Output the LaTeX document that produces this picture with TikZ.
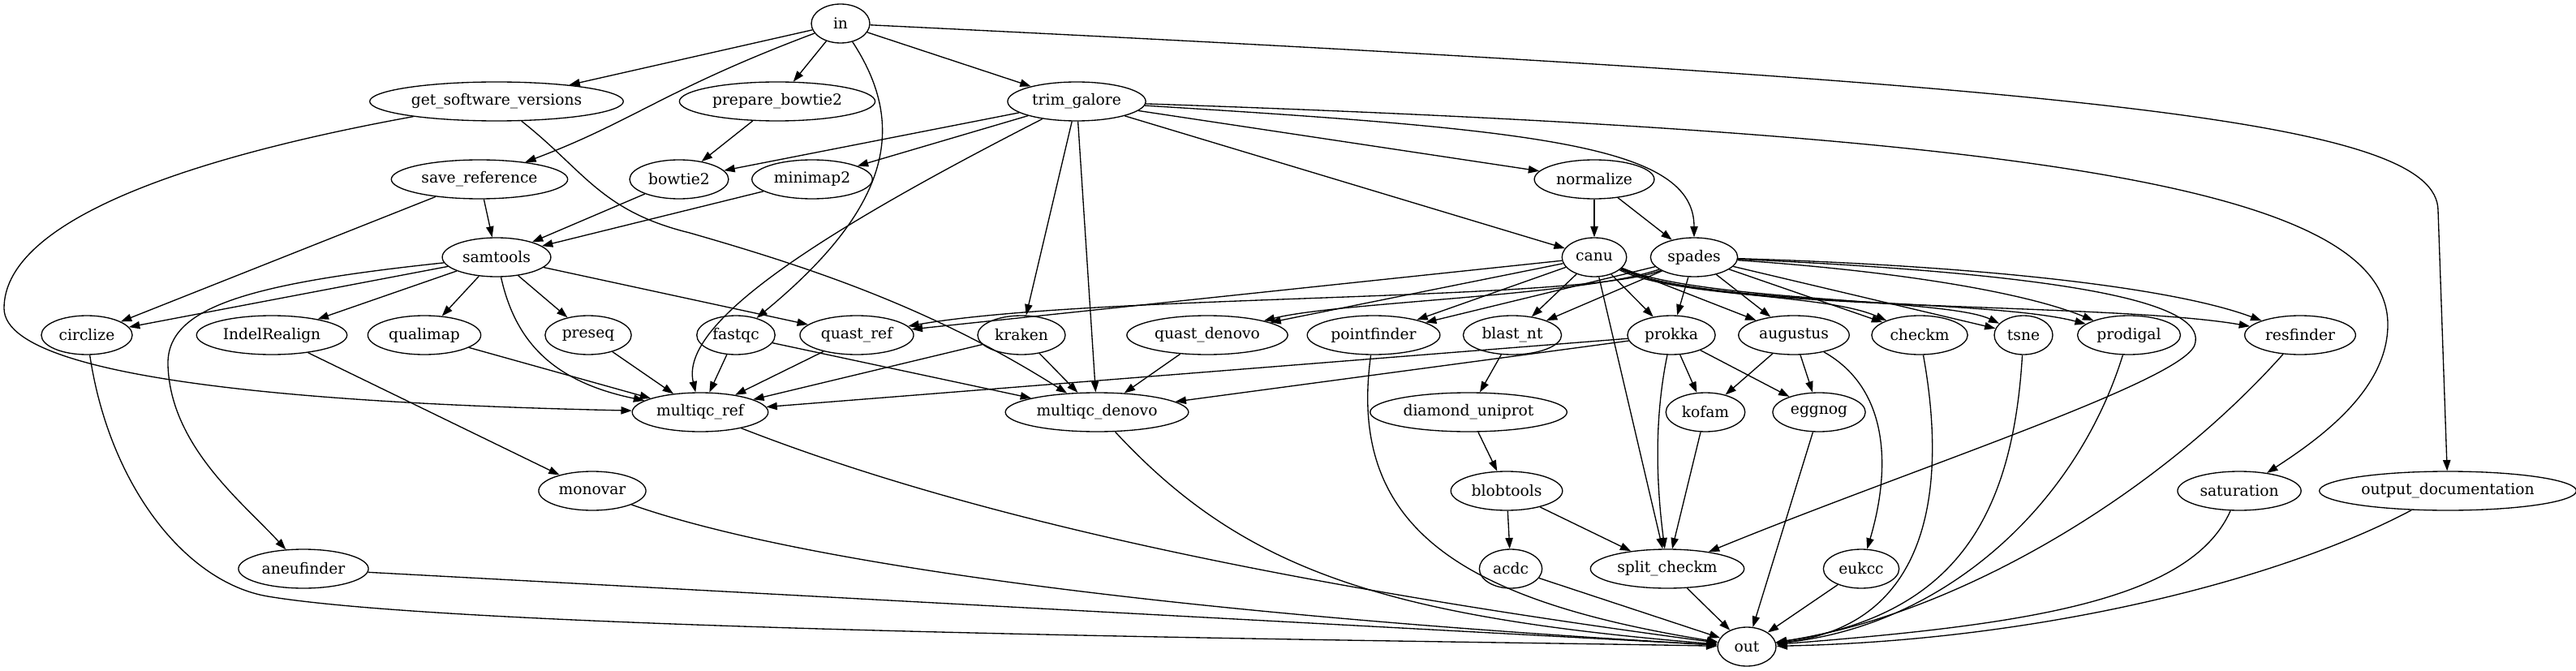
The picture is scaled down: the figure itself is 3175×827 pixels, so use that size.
\documentclass[tikz,border=0pt]{standalone}
\usepackage{fontspec}
\setmainfont{DejaVu Serif}
\usetikzlibrary{arrows.meta,shapes.geometric}

\begin{document}
\begin{tikzpicture}[x=0.75pt, y=-0.75pt,
    proc/.style={draw, ellipse, line width=1pt, minimum width=54pt, minimum height=36pt, inner xsep=4pt, inner ysep=1pt, font=\fontsize{14pt}{16pt}\selectfont},
    arr/.style={-{Triangle[length=10pt, width=7pt]}, line width=1pt}
]
\useasboundingbox (0,0) rectangle (3175,827);

\node[proc] (inp) at (1036,29) {in};
\node[proc] (gsv) at (612,125) {get\_software\_versions};
\node[proc] (prepbt) at (958,125) {prepare\_bowtie2};
\node[proc] (trim) at (1327,125) {trim\_galore};
\node[proc] (saveref) at (591,221) {save\_reference};
\node[proc] (bowtie) at (837,221) {bowtie2};
\node[proc] (minimap) at (1001,221) {minimap2};
\node[proc] (normalize) at (1965,221) {normalize};
\node[proc] (samtools) at (612,317) {samtools};
\node[proc] (canu) at (1965,317) {canu};
\node[proc] (spades) at (2088,317) {spades};
\node[proc] (circlize) at (107,413) {circlize};
\node[proc] (indel) at (335,413) {IndelRealign};
\node[proc] (qualimap) at (523,413) {qualimap};
\node[proc] (preseq) at (725,413) {preseq};
\node[proc] (fastqc) at (907,413) {fastqc};
\node[proc] (quastref) at (1056,413) {quast\_ref};
\node[proc] (kraken) at (1259,413) {kraken};
\node[proc] (quastdn) at (1488,413) {quast\_denovo};
\node[proc] (pointfinder) at (1693,413) {pointfinder};
\node[proc] (blast) at (1864,413) {blast\_nt};
\node[proc] (prokka) at (2060,413) {prokka};
\node[proc] (augustus) at (2211,413) {augustus};
\node[proc] (checkm) at (2366,413) {checkm};
\node[proc] (tsne) at (2494,413) {tsne};
\node[proc] (prodigal) at (2624,413) {prodigal};
\node[proc] (resfinder) at (2835,413) {resfinder};
\node[proc] (mqcref) at (863,508) {multiqc\_ref};
\node[proc] (mqcdn) at (1352,508) {multiqc\_denovo};
\node[proc] (diamond) at (1810,508) {diamond\_uniprot};
\node[proc] (kofam) at (2102,508) {kofam};
\node[proc] (eggnog) at (2242,508) {eggnog};
\node[proc] (monovar) at (730,605) {monovar};
\node[proc] (blobtools) at (1857,605) {blobtools};
\node[proc] (saturation) at (2760,605) {saturation};
\node[proc] (outdoc) at (3017,605) {output\_documentation};
\node[proc] (aneufinder) at (374,701) {aneufinder};
\node[proc] (acdc) at (1862,701) {acdc};
\node[proc] (splitcheckm) at (2055,701) {split\_checkm};
\node[proc] (eukcc) at (2294,701) {eukcc};
\node[proc] (out) at (2153,797) {out};

\draw[arr] (inp) -- (gsv);
\draw[arr] (inp) -- (prepbt);
\draw[arr] (inp) -- (trim);
\draw[arr] (inp) .. controls (820,110) and (780,150) .. (saveref);
\draw[arr] (inp) .. controls (1115,150) and (1105,250) .. (fastqc);
\draw[arr] (inp) .. controls (2600,105) and (3005,150) .. (3005,260) -- (outdoc);

\draw[arr] (gsv) .. controls (200,200) and (5,280) .. (5,380) .. controls (5,480) and (500,500) .. (mqcref);
\draw[arr] (gsv) .. controls (720,210) and (740,260) .. (850,287) .. controls (1000,330) and (1150,380) .. (mqcdn);
\draw[arr] (prepbt) -- (bowtie);

\draw[arr] (trim) -- (bowtie);
\draw[arr] (trim) -- (minimap);
\draw[arr] (trim) .. controls (1000,292) and (838,400) .. (mqcref);
\draw[arr] (trim) -- (kraken);
\draw[arr] (trim) -- (mqcdn);
\draw[arr] (trim) -- (canu);
\draw[arr] (trim) -- (normalize);
\draw[arr] (trim) .. controls (1900,160) and (2088,180) .. (spades);
\draw[arr] (trim) .. controls (2500,165) and (2943,230) .. (2943,400) .. controls (2943,480) and (2860,540) .. (saturation);

\draw[arr] (saveref) -- (samtools);
\draw[arr] (saveref) -- (circlize);
\draw[arr] (bowtie) -- (samtools);
\draw[arr] (minimap) -- (samtools);
\draw[arr] (normalize) -- (canu);
\draw[arr] (normalize) -- (spades);

\draw[arr] (samtools) -- (circlize);
\draw[arr] (samtools) .. controls (300,350) and (205,380) .. (207,450) .. controls (210,550) and (300,620) .. (aneufinder);
\draw[arr] (samtools) -- (indel);
\draw[arr] (samtools) -- (qualimap);
\draw[arr] (samtools) -- (preseq);
\draw[arr] (samtools) .. controls (635,420) and (680,470) .. (mqcref);
\draw[arr] (samtools) -- (quastref);

\draw[arr] (canu) -- (quastref);
\draw[arr] (canu) -- (quastdn);
\draw[arr] (canu) -- (pointfinder);
\draw[arr] (canu) -- (blast);
\draw[arr] (canu) -- (prokka);
\draw[arr] (canu) -- (augustus);
\draw[arr] (canu) -- (splitcheckm);
\draw[arr] (canu) .. controls (2080,368) and (2250,362) .. (checkm);
\draw[arr] (canu) .. controls (2100,372) and (2400,368) .. (tsne);
\draw[arr] (canu) .. controls (2100,378) and (2450,368) .. (prodigal);
\draw[arr] (canu) .. controls (2100,385) and (2600,372) .. (resfinder);

\draw[arr] (spades) .. controls (1950,372) and (1350,362) .. (quastref);
\draw[arr] (spades) .. controls (1950,365) and (1650,372) .. (quastdn);
\draw[arr] (spades) -- (pointfinder);
\draw[arr] (spades) -- (blast);
\draw[arr] (spades) -- (prokka);
\draw[arr] (spades) -- (augustus);
\draw[arr] (spades) -- (checkm);
\draw[arr] (spades) -- (tsne);
\draw[arr] (spades) .. controls (2350,335) and (2500,362) .. (prodigal);
\draw[arr] (spades) .. controls (2450,328) and (2680,355) .. (resfinder);
\draw[arr] (spades) .. controls (2600,340) and (2720,380) .. (2705,425) .. controls (2690,470) and (2350,580) .. (splitcheckm);

\draw[arr] (indel) -- (monovar);
\draw[arr] (qualimap) -- (mqcref);
\draw[arr] (preseq) -- (mqcref);
\draw[arr] (fastqc) -- (mqcref);
\draw[arr] (fastqc) -- (mqcdn);
\draw[arr] (quastref) -- (mqcref);
\draw[arr] (kraken) -- (mqcref);
\draw[arr] (kraken) -- (mqcdn);
\draw[arr] (quastdn) -- (mqcdn);
\draw[arr] (blast) -- (diamond);
\draw[arr] (diamond) -- (blobtools);
\draw[arr] (blobtools) -- (acdc);
\draw[arr] (blobtools) -- (splitcheckm);

\draw[arr] (prokka) -- (mqcref);
\draw[arr] (prokka) -- (mqcdn);
\draw[arr] (prokka) -- (kofam);
\draw[arr] (prokka) -- (eggnog);
\draw[arr] (prokka) .. controls (2038,520) and (2042,600) .. (splitcheckm);
\draw[arr] (augustus) -- (kofam);
\draw[arr] (augustus) -- (eggnog);
\draw[arr] (augustus) .. controls (2330,480) and (2330,580) .. (eukcc);
\draw[arr] (kofam) -- (splitcheckm);

\draw[arr] (circlize) .. controls (135,600) and (230,718) .. (330,735) .. controls (600,780) and (1800,790) .. (out);
\draw[arr] (aneufinder) -- (out);
\draw[arr] (monovar) .. controls (1000,700) and (1500,760) .. (out);
\draw[arr] (mqcref) .. controls (1150,620) and (1500,710) .. (out);
\draw[arr] (mqcdn) .. controls (1530,700) and (1700,760) .. (out);
\draw[arr] (pointfinder) .. controls (1660,650) and (1800,740) .. (out);
\draw[arr] (acdc) -- (out);
\draw[arr] (splitcheckm) -- (out);
\draw[arr] (eggnog) -- (out);
\draw[arr] (eukcc) -- (out);
\draw[arr] (checkm) .. controls (2400,600) and (2380,770) .. (out);
\draw[arr] (tsne) .. controls (2480,650) and (2400,760) .. (out);
\draw[arr] (prodigal) .. controls (2560,620) and (2400,770) .. (out);
\draw[arr] (resfinder) .. controls (2650,620) and (2400,760) .. (out);
\draw[arr] (saturation) .. controls (2700,740) and (2500,770) .. (out);
\draw[arr] (outdoc) .. controls (2800,720) and (2500,790) .. (out);
\end{tikzpicture}
\end{document}
